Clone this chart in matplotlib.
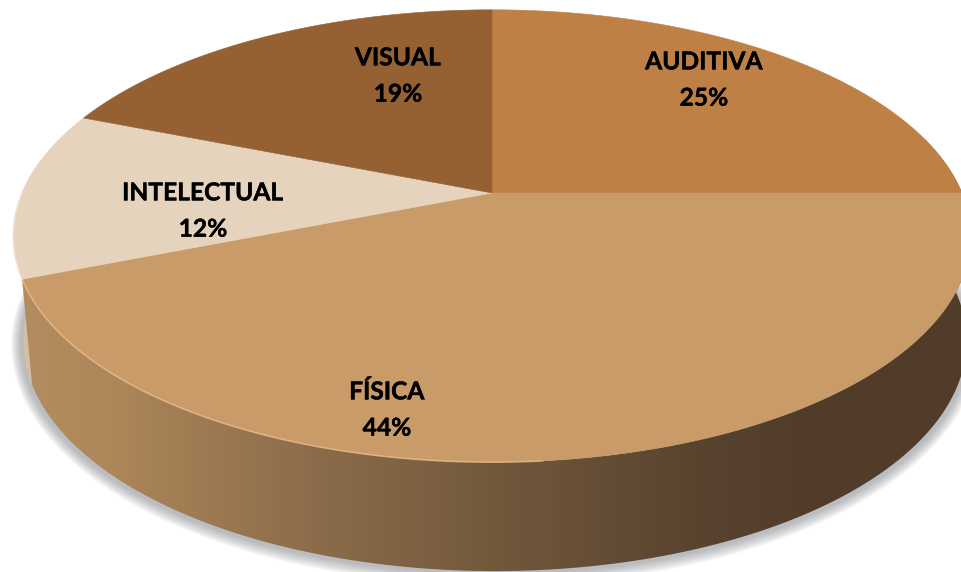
import numpy as np
import matplotlib
matplotlib.use('Agg')
import matplotlib.pyplot as plt
import matplotlib.patheffects as pe
from matplotlib.colors import LinearSegmentedColormap
from matplotlib.patches import Polygon

categories = ['AUDITIVA', 'FÍSICA', 'INTELECTUAL', 'VISUAL']
percent = [25, 44, 12, 19]
top_colors = ['#BE8044', '#C99B68', '#E6D3BE', '#956133']
label_xy = [(704, 80), (387, 410), (203, 211), (398, 76)]

plt.rcParams['font.family'] = ['Lato', 'DejaVu Sans']

# perspectiva del disco
persp = 0.19


def project(ang, cx, cy, a, b):
    t = np.radians(ang)
    d = 1 + persp * np.sin(t)
    return cx + a * np.cos(t) / d, cy - b * np.sin(t) / d


def top_edge(ang):
    return project(ang, 492, 193, 470, 218)


def low_edge(ang):
    return project(ang, 495, 297, 463, 222)


def wall(ang):
    x1, y1 = top_edge(ang)
    x2, y2 = low_edge(ang[::-1])
    return np.column_stack([np.r_[x1, x2], np.r_[y1, y2]])


fig = plt.figure(figsize=(9.62, 5.72), dpi=100)
ax = fig.add_axes([0, 0, 1, 1])
ax.axis('off')

# angulos de cada sector
edges = 90 - np.cumsum([0] + percent) * 3.6

# sombra
around = np.linspace(0, 360, 361)
for grow in np.arange(10, 0, -1):
    xs, ys = project(around, 495, 299, 463 + grow + 2, 222 + grow)
    ax.fill(xs, ys, color='#70747A', alpha=0.06, lw=0, zorder=1)

# pared lateral
side_cmap = LinearSegmentedColormap.from_list('side', [
    (0.0, '#B48E62'), (0.12, '#AD8659'), (0.30, '#8F6F4C'), (0.50, '#745A3D'),
    (0.72, '#594430'), (0.85, '#513C2A'), (1.0, '#513C2A')])
grad = np.linspace(0, 1, 256).reshape(1, -1)
fis = np.linspace(edges[1] + 15, edges[2], 200)
face = Polygon(wall(fis), transform=ax.transData, fc='none', ec='none')
ax.add_patch(face)
im = ax.imshow(grad, extent=(0, 962, 572, 0), aspect='auto', cmap=side_cmap, zorder=2)
im.set_clip_path(face)

strip = wall(np.linspace(edges[2], edges[2] - 30, 60))
ax.fill(strip[:, 0], strip[:, 1], color='#D8BFA2', lw=0, zorder=1.5)

# cara superior
for i in range(len(percent)):
    arc = np.linspace(edges[i], edges[i + 1], 200)
    x, y = top_edge(arc)
    ax.fill(np.r_[492, x], np.r_[193, y], color=top_colors[i], ec=top_colors[i], lw=0.4, zorder=3)

# brillo del borde
rx, ry = top_edge(np.linspace(-85, edges[2], 120))
ax.plot(rx, ry, color='#EDBE8F', lw=1.2, alpha=0.7, zorder=4)
rx, ry = top_edge(np.linspace(edges[2], edges[2] - 22, 40))
ax.plot(rx, ry, color='#F3E3D0', lw=1.2, alpha=0.8, zorder=4)

for name, pct, (tx, ty) in zip(categories, percent, label_xy):
    txt = ax.text(tx, ty, f'{name}\n{pct}%', ha='center', va='center', fontsize=17.7,
                  fontweight='bold', color='black', linespacing=1.7, zorder=5)
    txt.set_path_effects([pe.withStroke(linewidth=0.3, foreground='black')])

ax.set_xlim(0, 962)
ax.set_ylim(572, 0)
fig.savefig('out.png', dpi=100)
